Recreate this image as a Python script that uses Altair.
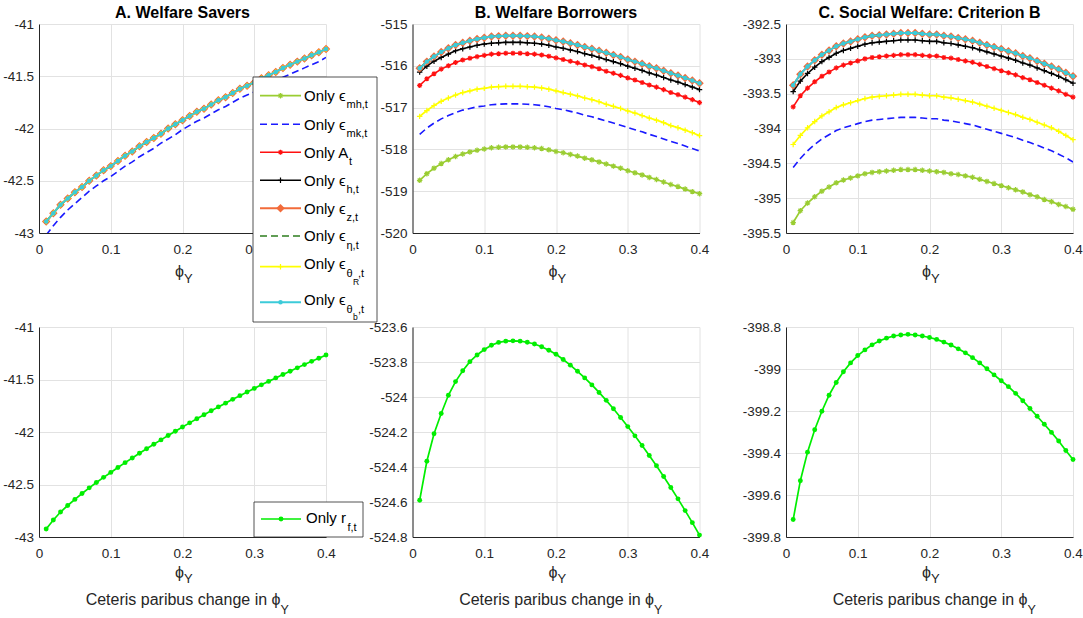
import altair as alt
import pandas as pd

FONT = "Liberation Sans"

# ---------------- data ----------------
phi = [0.01, 0.02, 0.03, 0.04, 0.05, 0.06, 0.07, 0.08, 0.09, 0.10,
       0.11, 0.12, 0.13, 0.14, 0.15, 0.16, 0.17, 0.18, 0.19, 0.20,
       0.21, 0.22, 0.23, 0.24, 0.25, 0.26, 0.27, 0.28, 0.29, 0.30,
       0.31, 0.32, 0.33, 0.34, 0.35, 0.36, 0.37, 0.38, 0.39, 0.40]

# A. Welfare Savers (all shocks but eps_mk overlap visually)
savers_common = [-42.89, -42.81, -42.73, -42.67, -42.61, -42.56, -42.50, -42.45, -42.40, -42.36,
                 -42.31, -42.26, -42.22, -42.17, -42.13, -42.09, -42.05, -42.00, -41.96, -41.92,
                 -41.88, -41.84, -41.81, -41.77, -41.73, -41.70, -41.66, -41.62, -41.59, -41.56,
                 -41.52, -41.49, -41.46, -41.42, -41.39, -41.36, -41.33, -41.30, -41.27, -41.24]
savers_mk = [-43.02, -42.93, -42.85, -42.78, -42.72, -42.66, -42.60, -42.55, -42.50, -42.46,
             -42.41, -42.36, -42.32, -42.27, -42.23, -42.19, -42.14, -42.10, -42.06, -42.01,
             -41.97, -41.93, -41.90, -41.86, -41.82, -41.79, -41.75, -41.71, -41.68, -41.65,
             -41.61, -41.58, -41.55, -41.51, -41.48, -41.45, -41.42, -41.39, -41.36, -41.32]
savers_rf = [-42.924, -42.838, -42.762, -42.700, -42.642, -42.586, -42.532, -42.481, -42.432, -42.385,
             -42.338, -42.292, -42.247, -42.203, -42.160, -42.117, -42.075, -42.034, -41.993, -41.953,
             -41.913, -41.874, -41.836, -41.798, -41.761, -41.725, -41.689, -41.654, -41.619, -41.585,
             -41.551, -41.518, -41.485, -41.453, -41.421, -41.389, -41.358, -41.327, -41.297, -41.267]

# B. Welfare Borrowers
borr_mh = [-518.74, -518.58, -518.45, -518.34, -518.25, -518.17, -518.11, -518.06, -518.02, -517.99,
           -517.96, -517.95, -517.94, -517.94, -517.94, -517.95, -517.96, -517.98, -518.01, -518.05,
           -518.08, -518.12, -518.16, -518.21, -518.25, -518.30, -518.35, -518.40, -518.45, -518.51,
           -518.56, -518.61, -518.67, -518.72, -518.78, -518.84, -518.89, -518.95, -519.01, -519.06]
borr_mk = [-517.64, -517.49, -517.37, -517.27, -517.19, -517.12, -517.06, -517.02, -516.98, -516.96,
           -516.93, -516.92, -516.91, -516.91, -516.91, -516.92, -516.93, -516.95, -516.98, -517.02,
           -517.05, -517.09, -517.13, -517.18, -517.22, -517.27, -517.32, -517.37, -517.42, -517.48,
           -517.53, -517.58, -517.64, -517.69, -517.75, -517.81, -517.86, -517.92, -517.98, -518.04]
borr_A = [-516.47, -516.31, -516.19, -516.08, -516.00, -515.92, -515.86, -515.82, -515.78, -515.75,
          -515.72, -515.71, -515.70, -515.70, -515.70, -515.71, -515.72, -515.74, -515.77, -515.81,
          -515.85, -515.89, -515.93, -515.98, -516.02, -516.07, -516.13, -516.18, -516.23, -516.29,
          -516.34, -516.40, -516.46, -516.51, -516.57, -516.64, -516.69, -516.75, -516.81, -516.88]
borr_h = [-516.15, -516.01, -515.89, -515.80, -515.72, -515.64, -515.59, -515.55, -515.51, -515.48,
          -515.46, -515.45, -515.44, -515.44, -515.44, -515.45, -515.46, -515.48, -515.51, -515.55,
          -515.58, -515.62, -515.66, -515.71, -515.75, -515.80, -515.85, -515.90, -515.95, -516.01,
          -516.06, -516.11, -516.17, -516.22, -516.28, -516.34, -516.39, -516.45, -516.51, -516.57]
borr_top = [-516.06, -515.90, -515.78, -515.67, -515.58, -515.50, -515.45, -515.40, -515.36, -515.33,
            -515.30, -515.29, -515.28, -515.28, -515.28, -515.29, -515.30, -515.32, -515.35, -515.39,
            -515.42, -515.46, -515.50, -515.55, -515.59, -515.64, -515.69, -515.74, -515.79, -515.85,
            -515.90, -515.95, -516.01, -516.06, -516.12, -516.18, -516.23, -516.29, -516.35, -516.42]
borr_thR = [-517.21, -517.07, -516.95, -516.85, -516.77, -516.70, -516.64, -516.60, -516.56, -516.54,
            -516.51, -516.50, -516.49, -516.49, -516.49, -516.50, -516.51, -516.53, -516.56, -516.60,
            -516.64, -516.68, -516.72, -516.77, -516.81, -516.86, -516.92, -516.97, -517.02, -517.08,
            -517.13, -517.19, -517.25, -517.30, -517.36, -517.43, -517.48, -517.54, -517.60, -517.67]
borr_rf = [-524.590, -524.367, -524.210, -524.094, -523.990, -523.912, -523.850, -523.798, -523.760, -523.729,
           -523.704, -523.688, -523.681, -523.679, -523.681, -523.687, -523.697, -523.713, -523.733, -523.756,
           -523.786, -523.818, -523.853, -523.891, -523.931, -523.974, -524.019, -524.067, -524.117, -524.169,
           -524.222, -524.277, -524.334, -524.393, -524.454, -524.517, -524.582, -524.649, -524.718, -524.789]

# C. Social Welfare: Criterion B
soc_mh = [-395.35, -395.18, -395.07, -394.98, -394.90, -394.84, -394.78, -394.74, -394.71, -394.68,
          -394.65, -394.63, -394.62, -394.61, -394.60, -394.59, -394.59, -394.59, -394.60, -394.61,
          -394.62, -394.63, -394.65, -394.66, -394.68, -394.70, -394.73, -394.76, -394.79, -394.82,
          -394.85, -394.88, -394.91, -394.95, -394.98, -395.02, -395.05, -395.09, -395.12, -395.16]
soc_mk = [-394.56, -394.43, -394.32, -394.23, -394.15, -394.09, -394.03, -393.99, -393.96, -393.93,
          -393.90, -393.88, -393.87, -393.86, -393.85, -393.84, -393.84, -393.84, -393.85, -393.86,
          -393.86, -393.88, -393.89, -393.91, -393.93, -393.95, -393.98, -394.01, -394.04, -394.07,
          -394.10, -394.13, -394.17, -394.20, -394.24, -394.28, -394.32, -394.37, -394.42, -394.48]
soc_A = [-393.69, -393.53, -393.42, -393.33, -393.25, -393.19, -393.13, -393.09, -393.06, -393.03,
         -393.00, -392.98, -392.97, -392.96, -392.95, -392.94, -392.94, -392.94, -392.95, -392.96,
         -392.96, -392.98, -392.99, -393.01, -393.03, -393.05, -393.08, -393.11, -393.14, -393.17,
         -393.20, -393.23, -393.27, -393.30, -393.34, -393.38, -393.42, -393.46, -393.51, -393.55]
soc_h = [-393.47, -393.32, -393.21, -393.12, -393.04, -392.98, -392.92, -392.88, -392.85, -392.82,
         -392.79, -392.77, -392.76, -392.75, -392.74, -392.73, -392.73, -392.73, -392.74, -392.75,
         -392.75, -392.77, -392.78, -392.80, -392.82, -392.84, -392.87, -392.90, -392.93, -392.96,
         -392.99, -393.02, -393.06, -393.09, -393.13, -393.17, -393.21, -393.25, -393.30, -393.35]
soc_top = [-393.38, -393.22, -393.11, -393.02, -392.94, -392.88, -392.82, -392.78, -392.75, -392.72,
           -392.69, -392.67, -392.66, -392.65, -392.64, -392.63, -392.63, -392.63, -392.64, -392.65,
           -392.65, -392.67, -392.68, -392.70, -392.72, -392.74, -392.77, -392.80, -392.83, -392.86,
           -392.89, -392.92, -392.96, -392.99, -393.03, -393.07, -393.11, -393.15, -393.20, -393.25]
soc_thR = [-394.23, -394.10, -393.99, -393.90, -393.82, -393.76, -393.70, -393.66, -393.63, -393.60,
           -393.57, -393.55, -393.54, -393.53, -393.52, -393.51, -393.51, -393.51, -393.52, -393.53,
           -393.53, -393.55, -393.56, -393.58, -393.60, -393.62, -393.65, -393.68, -393.71, -393.74,
           -393.77, -393.80, -393.84, -393.87, -393.91, -393.95, -393.99, -394.04, -394.10, -394.16]
soc_rf = [-399.717, -399.532, -399.396, -399.289, -399.201, -399.125, -399.064, -399.013, -398.971, -398.936,
          -398.909, -398.885, -398.867, -398.853, -398.843, -398.838, -398.835, -398.838, -398.843, -398.850,
          -398.859, -398.872, -398.886, -398.904, -398.923, -398.946, -398.971, -398.999, -399.028, -399.056,
          -399.084, -399.116, -399.151, -399.188, -399.225, -399.263, -399.302, -399.343, -399.388, -399.431]

x_ticks = [0, 0.1, 0.2, 0.3, 0.4]
ticks_A = [-43, -42.5, -42, -41.5, -41]
ticks_B = [-520, -519, -518, -517, -516, -515]
ticks_C = [-395.5, -395, -394.5, -394, -393.5, -393, -392.5]
ticks_D = [-43, -42.5, -42, -41.5, -41]
ticks_E = [-524.8, -524.6, -524.4, -524.2, -524, -523.8, -523.6]
ticks_F = [-399.8, -399.6, -399.4, -399.2, -399, -398.8]

titles = ["A. Welfare Savers", "B. Welfare Borrowers", "C. Social Welfare: Criterion B"]

series_order = ["mh", "mk", "A", "h", "z", "eta", "thR", "thb"]
legend_main = ["Only ϵ", "Only ϵ", "Only A", "Only ϵ", "Only ϵ", "Only ϵ", "Only ϵ", "Only ϵ"]
legend_sub = ["mh,t", "mk,t", "t", "h,t", "z,t", "η,t", "θ", "θ"]
legend_subsub = ["", "", "", "", "", "", "R", "b"]
legend_tail = ["", "", "", "", "", "", ",t", ",t"]
rf_main, rf_sub = "Only r", "f,t"
phi_sym, phi_sub = "ϕ", "Y"
ceteris = "Ceteris paribus change in ϕ"

# ---------------- styles ----------------
STAR = "M-1,0L1,0M0,-1L0,1M-0.7,-0.7L0.7,0.7M-0.7,0.7L0.7,-0.7"
PLUS = "M-1,0L1,0M0,-1L0,1"
style = {
    "mh": dict(color="#9acd32", dash=None, width=1.7, shape=STAR, size=30, filled=False),
    "mk": dict(color="#1a1aff", dash=[7, 4], width=1.6, shape=None),
    "A": dict(color="#ff1010", dash=None, width=1.6, shape=STAR, size=26, filled=False),
    "h": dict(color="#000000", dash=None, width=1.6, shape=PLUS, size=30, filled=False),
    "z": dict(color="#f26b3a", dash=None, width=2.0, shape="diamond", size=72, filled=True),
    "eta": dict(color="#2e7d1e", dash=[7, 4], width=1.6, shape=None),
    "thR": dict(color="#ffff00", dash=None, width=1.7, shape=PLUS, size=30, filled=False),
    "thb": dict(color="#3ccbd9", dash=None, width=1.9, shape="circle", size=20, filled=True),
    "rf": dict(color="#00ee00", dash=None, width=1.7, shape="circle", size=24, filled=True),
}

W, H_TOP, H_BOT = 287, 209, 210


def one_row(**cols):
    return pd.DataFrame({k: [v] for k, v in cols.items()})


def text_layer(s, x, y, size, align="left", color="#262626", weight="normal"):
    return alt.Chart(one_row(label=s)).mark_text(
        align=align, baseline="alphabetic", fontSize=size, font=FONT,
        color=color, fontWeight=weight
    ).encode(x=alt.value(x), y=alt.value(y), text="label:N")


def sample_layers(key, x1, x2, y):
    st = style[key]
    kw = dict(color=st["color"], strokeWidth=st["width"])
    if st["dash"]:
        kw["strokeDash"] = st["dash"]
    out = [alt.Chart(one_row(k=key)).mark_rule(**kw).encode(
        x=alt.value(x1), x2=alt.value(x2), y=alt.value(y))]
    if st["shape"]:
        out.append(alt.Chart(one_row(k=key)).mark_point(
            shape=st["shape"], size=st["size"], filled=st["filled"], color=st["color"],
            strokeWidth=1.2, opacity=1).encode(x=alt.value((x1 + x2) / 2), y=alt.value(y)))
    return out


def box_layer(x1, x2, y1, y2):
    return alt.Chart(one_row(k=0)).mark_rect(
        fill="white", stroke="#262626", strokeWidth=0.8
    ).encode(x=alt.value(x1), x2=alt.value(x2), y=alt.value(y1), y2=alt.value(y2))


def panel(series, order, ydom, yticks, height, title=None, bottom=False):
    xs = alt.Scale(domain=[0, 0.4], nice=False, zero=False)
    ys = alt.Scale(domain=ydom, nice=False, zero=False)
    xax = alt.Axis(values=x_ticks, labelExpr="'' + datum.value", title=None, grid=True)
    yax = alt.Axis(values=yticks, labelExpr="'' + datum.value", title=None, grid=True)
    layers = []
    for key in order:
        df = pd.DataFrame({"phi": phi, "welfare": series[key]})
        st = style[key]
        enc = dict(x=alt.X("phi:Q", scale=xs, axis=xax),
                   y=alt.Y("welfare:Q", scale=ys, axis=yax))
        kw = dict(color=st["color"], strokeWidth=st["width"], clip=True)
        if st["dash"]:
            kw["strokeDash"] = st["dash"]
        layers.append(alt.Chart(df).mark_line(**kw).encode(**enc))
        if st["shape"]:
            layers.append(alt.Chart(df).mark_point(
                shape=st["shape"], size=st["size"], filled=st["filled"],
                color=st["color"], strokeWidth=1.2, opacity=1).encode(**enc))
    mid = W / 2
    if bottom:
        layers.append(text_layer(phi_sym, mid + 1.5, height + 41, 16, align="right"))
        layers.append(text_layer(phi_sub, mid + 1.5, height + 46, 13))
        layers.append(text_layer(ceteris, mid + 98, height + 68, 16, align="right"))
        layers.append(text_layer(phi_sub, mid + 98, height + 77, 12.5))
    else:
        layers.append(text_layer(phi_sym, mid + 1.5, height + 44, 16, align="right"))
        layers.append(text_layer(phi_sub, mid + 1.5, height + 49.5, 13))
    props = dict(width=W, height=height)
    if title:
        props["title"] = alt.TitleParams(title)
    return layers, props


# ---------- panel A (with main legend) ----------
data_A = {"mh": savers_common, "mk": savers_mk, "A": savers_common, "h": savers_common,
          "z": savers_common, "eta": savers_common, "thR": savers_common, "thb": savers_common}
layA, propA = panel(data_A, series_order, [-43, -41], ticks_A, H_TOP, titles[0])
layA.append(box_layer(214, 338, 53, 298))
row_y = [71.7, 100.3, 128.3, 156.3, 184.3, 212, 242.7, 278.3]
for i, key in enumerate(series_order):
    y = row_y[i]
    layA += sample_layers(key, 221, 262, y)
    if legend_subsub[i]:
        layA.append(text_layer(legend_main[i], 265, y + 2.5, 15, color="#000000"))
        layA.append(text_layer(legend_sub[i], 307.5, y + 10.5, 11, color="#000000"))
        layA.append(text_layer(legend_subsub[i], 314, y + 18, 8.5, color="#000000"))
        layA.append(text_layer(legend_tail[i], 319, y + 10.5, 11, color="#000000"))
    else:
        sx = 310 if legend_main[i].endswith("A") else 307.5
        layA.append(text_layer(legend_main[i], 265, y + 5.3, 15, color="#000000"))
        layA.append(text_layer(legend_sub[i], sx, y + 12.6, 11, color="#000000"))
pA = alt.layer(*layA).properties(**propA)

# ---------- panel B ----------
data_B = {"mh": borr_mh, "mk": borr_mk, "A": borr_A, "h": borr_h, "z": borr_top,
          "eta": borr_top, "thR": borr_thR, "thb": borr_top}
layB, propB = panel(data_B, series_order, [-520, -515], ticks_B, H_TOP, titles[1])
pB = alt.layer(*layB).properties(**propB)

# ---------- panel C ----------
data_C = {"mh": soc_mh, "mk": soc_mk, "A": soc_A, "h": soc_h, "z": soc_top,
          "eta": soc_top, "thR": soc_thR, "thb": soc_top}
layC, propC = panel(data_C, series_order, [-395.5, -392.5], ticks_C, H_TOP, titles[2])
pC = alt.layer(*layC).properties(**propC)

# ---------- bottom row: only r_f ----------
layD, propD = panel({"rf": savers_rf}, ["rf"], [-43, -41], ticks_D, H_BOT, bottom=True)
layD.append(box_layer(215, 324, 175, 210))
layD += sample_layers("rf", 222, 262, 192)
layD.append(text_layer(rf_main, 267, 195.5, 15, color="#000000"))
layD.append(text_layer(rf_sub, 308.5, 204, 11, color="#000000"))
pD = alt.layer(*layD).properties(**propD)

layE, propE = panel({"rf": borr_rf}, ["rf"], [-524.8, -523.6], ticks_E, H_BOT, bottom=True)
pE = alt.layer(*layE).properties(**propE)

layF, propF = panel({"rf": soc_rf}, ["rf"], [-399.8, -398.8], ticks_F, H_BOT, bottom=True)
pF = alt.layer(*layF).properties(**propF)

chart = alt.concat(
    pA, pB, pC, pD, pE, pF, columns=3,
    spacing={"row": 94, "column": 86.5}, bounds="flush"
).properties(
    padding={"left": 2, "top": 5, "right": 0, "bottom": 0},
    background="white",
).configure_view(
    stroke=None
).configure_axis(
    labelFont=FONT, labelFontSize=13.5, labelColor="#262626",
    domainColor="#262626", domainWidth=1, gridColor="#e2e2e2", gridWidth=1,
    ticks=False, tickSize=0, labelFlush=False, labelOverlap=False, zindex=0
).configure_axisX(
    labelPadding=9
).configure_axisY(
    labelPadding=5.5
).configure_title(
    font=FONT, fontSize=16, fontWeight="bold", color="#000000", offset=-4, anchor="middle"
)

chart.save("out.html", embed_options={"renderer": "svg", "actions": False})
